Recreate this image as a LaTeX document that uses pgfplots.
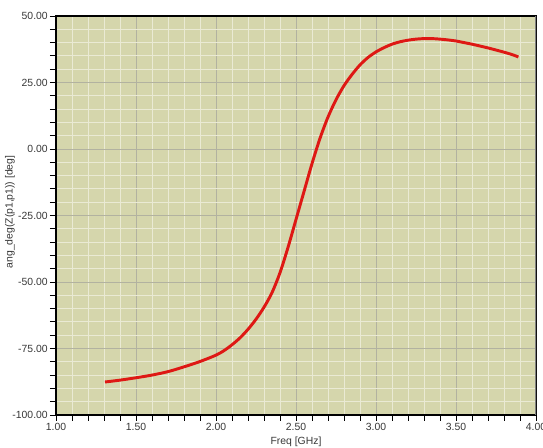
\documentclass[border=0pt]{standalone}
\usepackage{fontspec}
\setmainfont{Liberation Sans}
\usepackage{pgfplots}
\pgfplotsset{compat=1.18}

\definecolor{bgk}{RGB}{213,214,172}
\definecolor{minorln}{RGB}{234,234,212}
\definecolor{majorln}{RGB}{178,178,160}
\definecolor{curve}{RGB}{222,24,20}
\definecolor{lbl}{RGB}{55,55,55}

\begin{document}
\begin{tikzpicture}[x=0.75pt,y=0.75pt]
\begin{axis}[
  scale only axis,
  width=360pt, height=299.25pt,
  xmin=1, xmax=4, ymin=-100, ymax=50,
  xtick={1,1.5,2,2.5,3,3.5,4},
  xticklabels={1.00,1.50,2.00,2.50,3.00,3.50,4.00},
  ytick={-100,-75,-50,-25,0,25,50},
  yticklabels={-100.00,-75.00,-50.00,-25.00,0.00,25.00,50.00},
  minor x tick num=4, minor y tick num=4,
  tick align=outside, tick pos=left,
  major tick length=4.5pt, minor tick length=4.5pt,
  tick style={black, line width=0.6pt},
  grid=both,
  major grid style={majorln, line width=0.6pt},
  minor grid style={minorln, line width=0.7pt},
  axis background/.style={fill=bgk},
  axis line style={black, line width=0.9pt},
  ticklabel style={font=\fontsize{7.8pt}{8pt}\selectfont, text=lbl, inner sep=1.5pt},
  xlabel={Freq [GHz]},
  ylabel={ang\_deg(Z(p1,p1)) [deg]},
  label style={font=\fontsize{7.8pt}{8pt}\selectfont, text=lbl},
  xlabel style={at={(axis description cs:0.5,-0.068)}, anchor=center},
  ylabel style={at={(axis description cs:-0.096,0.509)}, anchor=center, rotate=0},
]
\addplot[curve, line width=2.2pt, smooth] coordinates {
(1.306,-87.6) (1.40,-86.9) (1.50,-86.0) (1.60,-85.0) (1.70,-83.7)
(1.80,-81.9) (1.90,-79.9) (2.00,-77.5) (2.05,-75.8) (2.10,-73.6)
(2.15,-71.0) (2.20,-67.8) (2.25,-64.0) (2.30,-59.5) (2.35,-54.0)
(2.40,-46.5) (2.45,-37.0) (2.50,-26.5) (2.55,-16.0) (2.60,-5.5)
(2.65,4.0) (2.70,12.0) (2.75,18.5) (2.80,23.8) (2.85,28.0)
(2.90,31.6) (2.95,34.4) (3.00,36.5) (3.05,38.1) (3.10,39.4)
(3.15,40.3) (3.20,40.9) (3.25,41.3) (3.30,41.5) (3.35,41.5)
(3.40,41.3) (3.45,41.0) (3.50,40.6) (3.55,40.0) (3.60,39.4)
(3.65,38.7) (3.70,38.0) (3.75,37.2) (3.80,36.4) (3.85,35.5)
(3.89,34.6)
};
\draw[gray, line width=0.9pt] (rel axis cs:1,0) -- (rel axis cs:1,1);
\coordinate (bl) at (rel axis cs:0,0);
\coordinate (tr) at (rel axis cs:1,1);
\end{axis}
\pgfresetboundingbox
\path[use as bounding box] ([xshift=-42pt,yshift=-24.75pt]bl) rectangle ([xshift=5.25pt,yshift=12pt]tr);
\end{tikzpicture}
\end{document}
